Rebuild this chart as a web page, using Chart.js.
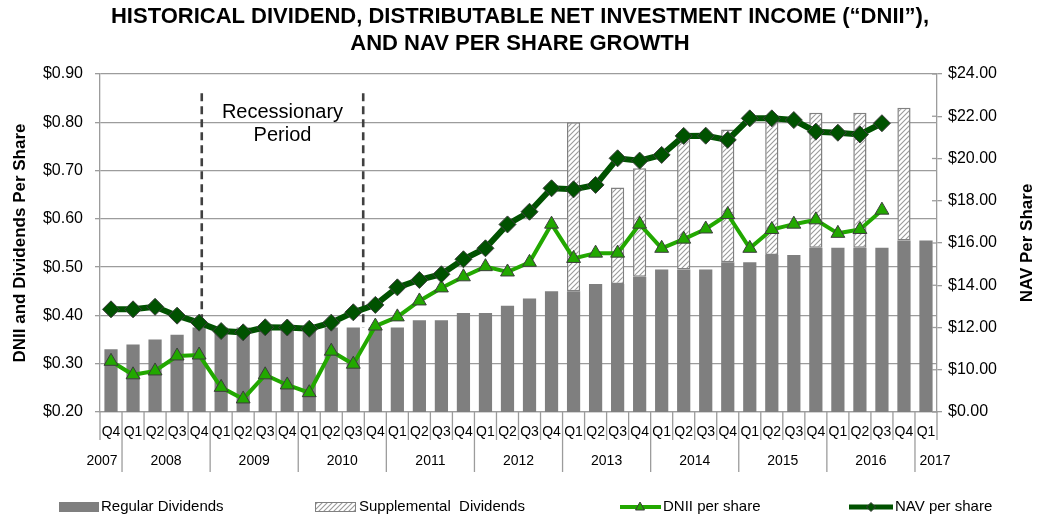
<!DOCTYPE html>
<html>
<head>
<meta charset="utf-8">
<script src="https://cdn.jsdelivr.net/npm/chart.js@4.4.0/dist/chart.umd.min.js"></script>
<style>
  html, body { margin: 0; padding: 0; background: #fff; }
  #wrap { width: 1040px; height: 521px; position: relative; }
</style>
</head>
<body>
<div id="wrap"><canvas id="divChart"></canvas></div>
<script>
// quarters from Q4 2007 to Q1 2017
const quarters = ['Q4',
  'Q1', 'Q2', 'Q3', 'Q4', 'Q1', 'Q2', 'Q3', 'Q4', 'Q1', 'Q2', 'Q3', 'Q4',
  'Q1', 'Q2', 'Q3', 'Q4', 'Q1', 'Q2', 'Q3', 'Q4', 'Q1', 'Q2', 'Q3', 'Q4',
  'Q1', 'Q2', 'Q3', 'Q4', 'Q1', 'Q2', 'Q3', 'Q4', 'Q1', 'Q2', 'Q3', 'Q4',
  'Q1'];
const yearLabels = ['2007', '2008', '2009', '2010', '2011', '2012', '2013', '2014', '2015', '2016', '2017'];
const yearStarts = [0, 1, 5, 9, 13, 17, 21, 25, 29, 33, 37];

const regularDividends = [0.33, 0.34, 0.35, 0.36, 0.375,
  0.375, 0.375, 0.375, 0.375, 0.375, 0.375, 0.375, 0.375,
  0.375, 0.39, 0.39, 0.405, 0.405, 0.42, 0.435, 0.45,
  0.45, 0.465, 0.465, 0.48, 0.495, 0.495, 0.495, 0.51,
  0.51, 0.525, 0.525, 0.54, 0.54, 0.54, 0.54, 0.555,
  0.555];
const supplementalDividends = [null, null, null, null, null,
  null, null, null, null, null, null, null, null,
  null, null, null, null, null, null, null, null,
  0.35, null, 0.20, 0.225, null, 0.275, null, 0.275,
  null, 0.29, null, 0.28, null, 0.28, null, 0.275,
  null];
const dniiPerShare = [0.305, 0.277, 0.285, 0.316, 0.318,
  0.251, 0.227, 0.277, 0.256, 0.240, 0.326, 0.299, 0.378,
  0.397, 0.430, 0.457, 0.480, 0.501, 0.490, 0.510, 0.589,
  0.518, 0.529, 0.529, 0.589, 0.539, 0.558, 0.579, 0.609,
  0.539, 0.578, 0.589, 0.598, 0.570, 0.578, 0.618, null,
  null];
const navPerShare = [12.86, 12.86, 12.98, 12.56, 12.23,
  11.83, 11.77, 12.01, 12.00, 11.94, 12.23, 12.72, 13.07,
  13.90, 14.25, 14.52, 15.23, 15.75, 16.88, 17.48, 18.59,
  18.54, 18.75, 20.01, 19.90, 20.17, 21.07, 21.08, 20.88,
  21.90, 21.90, 21.82, 21.27, 21.22, 21.14, 21.67, null,
  null];

const leftTickLabels = ['$0.20', '$0.30', '$0.40', '$0.50', '$0.60', '$0.70', '$0.80', '$0.90'];
const rightTickLabels = ['$0.00', '$10.00', '$12.00', '$14.00', '$16.00', '$18.00', '$20.00', '$22.00', '$24.00'];

const FONT = "'Liberation Sans', Arial, sans-serif";
const GRID = '#9c9c9c';
const BAR_GRAY = '#7f7f7f';
const DNII_GREEN = '#22a800';
const NAV_GREEN = '#005200';
const MARKER_EDGE = '#3c3c3c';

// hatch fill for supplemental dividends
const makeHatch = () => {
  const c = document.createElement('canvas');
  c.width = 5;
  c.height = 5;
  const hc = c.getContext('2d');
  hc.fillStyle = '#ffffff';
  hc.fillRect(0, 0, 5, 5);
  hc.strokeStyle = '#9a9a9a';
  hc.lineWidth = 1.1;
  hc.beginPath();
  hc.moveTo(0, 5); hc.lineTo(5, 0);
  hc.moveTo(-1, 1); hc.lineTo(1, -1);
  hc.moveTo(4, 6); hc.lineTo(6, 4);
  hc.stroke();
  return c;
};

const canvasElement = document.getElementById('divChart');
const ctx = canvasElement.getContext('2d');
const hatchPattern = ctx.createPattern(makeHatch(), 'repeat');

// x axis group labels, recession marker, legend and right axis title
const decorPlugin = {
  id: 'decor',
  beforeDatasetsDraw(chart) {
    const { ctx, scales: { x, y } } = chart;
    ctx.save();
    ctx.strokeStyle = '#404040';
    ctx.lineWidth = 2.6;
    ctx.setLineDash([8, 5]);
    [4.12, 11.45].forEach((v) => {
      const px = x.getPixelForValue(v);
      ctx.beginPath();
      ctx.moveTo(px, y.getPixelForValue(0.86));
      ctx.lineTo(px, y.getPixelForValue(0.375));
      ctx.stroke();
    });
    ctx.setLineDash([]);
    ctx.fillStyle = '#000';
    ctx.font = '20px ' + FONT;
    ctx.textAlign = 'center';
    ctx.textBaseline = 'middle';
    const cx = x.getPixelForValue((4.12 + 11.45) / 2);
    ctx.fillText('Recessionary', cx, y.getPixelForValue(0.82));
    ctx.fillText('Period', cx, y.getPixelForValue(0.772));
    ctx.restore();
  },
  afterDraw(chart) {
    const { ctx, scales: { x, y2 }, chartArea } = chart;
    const base = chartArea.bottom;
    ctx.save();
    ctx.strokeStyle = GRID;
    ctx.lineWidth = 1.3;
    for (let i = 0; i <= quarters.length; i++) {
      const px = x.getPixelForValue(i - 0.5);
      const isYear = yearStarts.includes(i) || i === quarters.length;
      ctx.beginPath();
      ctx.moveTo(px, base);
      ctx.lineTo(px, base + (isYear && i > 0 && i < quarters.length ? 60 : 28));
      ctx.stroke();
    }
    // right axis ticks also cross inwards
    y2.ticks.forEach((t) => {
      const py = y2.getPixelForValue(t.value);
      ctx.beginPath();
      ctx.moveTo(chartArea.right - 5, py);
      ctx.lineTo(chartArea.right, py);
      ctx.stroke();
    });
    ctx.fillStyle = '#000';
    ctx.font = '14px ' + FONT;
    ctx.textAlign = 'center';
    ctx.textBaseline = 'middle';
    yearLabels.forEach((label, k) => {
      const first = yearStarts[k];
      const last = k + 1 < yearStarts.length ? yearStarts[k + 1] - 1 : quarters.length - 1;
      let cx = (x.getPixelForValue(first) + x.getPixelForValue(last)) / 2;
      if (k === 0) cx -= 9;
      if (k === yearLabels.length - 1) cx += 9;
      ctx.fillText(label, cx, base + 49);
    });

    // right axis title, reading upwards
    ctx.font = 'bold 17px ' + FONT;
    ctx.translate(1027, (chartArea.top + chartArea.bottom) / 2);
    ctx.rotate(-Math.PI / 2);
    ctx.fillText('NAV Per Share', 0, 0);
    ctx.restore();

    // legend
    const ly = 507;
    ctx.save();
    ctx.font = '15px ' + FONT;
    ctx.textBaseline = 'middle';
    ctx.textAlign = 'left';
    ctx.fillStyle = BAR_GRAY;
    ctx.fillRect(59, ly - 5, 40, 10);
    ctx.fillStyle = hatchPattern;
    ctx.fillRect(315, ly - 5, 41, 10);
    ctx.strokeStyle = '#808080';
    ctx.lineWidth = 1;
    ctx.strokeRect(315.5, ly - 4.5, 40, 9);

    ctx.strokeStyle = DNII_GREEN;
    ctx.lineWidth = 4;
    ctx.beginPath(); ctx.moveTo(620, ly); ctx.lineTo(661, ly); ctx.stroke();
    ctx.fillStyle = DNII_GREEN;
    ctx.strokeStyle = MARKER_EDGE;
    ctx.lineWidth = 1;
    ctx.beginPath();
    ctx.moveTo(640, ly - 5); ctx.lineTo(644.5, ly + 3); ctx.lineTo(635.5, ly + 3); ctx.closePath();
    ctx.fill(); ctx.stroke();

    ctx.strokeStyle = NAV_GREEN;
    ctx.lineWidth = 5;
    ctx.beginPath(); ctx.moveTo(849, ly); ctx.lineTo(893, ly); ctx.stroke();
    ctx.fillStyle = NAV_GREEN;
    ctx.strokeStyle = MARKER_EDGE;
    ctx.lineWidth = 1;
    ctx.beginPath();
    ctx.moveTo(871, ly - 4.5); ctx.lineTo(875.5, ly); ctx.lineTo(871, ly + 4.5); ctx.lineTo(866.5, ly); ctx.closePath();
    ctx.fill(); ctx.stroke();

    ctx.fillStyle = '#000';
    ctx.fillText('Regular Dividends', 101, ly);
    ctx.fillText('Supplemental  Dividends', 359, ly);
    ctx.fillText('DNII per share', 663, ly);
    ctx.fillText('NAV per share', 895, ly);
    ctx.restore();
  },
};

new Chart(ctx, {
  type: 'bar',
  data: {
    labels: quarters,
    datasets: [
      {
        type: 'line',
        label: 'NAV per share',
        data: navPerShare,
        yAxisID: 'y2',
        stack: 'nav',
        order: 1,
        borderColor: NAV_GREEN,
        borderWidth: 6,
        tension: 0,
        pointStyle: 'rectRot',
        pointRadius: 8.5,
        pointBackgroundColor: NAV_GREEN,
        pointBorderColor: MARKER_EDGE,
        pointBorderWidth: 1,
      },
      {
        type: 'line',
        label: 'DNII per share',
        data: dniiPerShare,
        yAxisID: 'y',
        stack: 'dnii',
        order: 2,
        borderColor: DNII_GREEN,
        borderWidth: 4,
        tension: 0,
        pointStyle: 'triangle',
        pointRadius: 8,
        pointBackgroundColor: DNII_GREEN,
        pointBorderColor: MARKER_EDGE,
        pointBorderWidth: 1,
      },
      {
        label: 'Regular Dividends',
        data: regularDividends,
        yAxisID: 'y',
        stack: 'div',
        order: 3,
        backgroundColor: BAR_GRAY,
        barPercentage: 0.6,
        categoryPercentage: 1.0,
      },
      {
        label: 'Supplemental  Dividends',
        data: supplementalDividends,
        yAxisID: 'y',
        stack: 'div',
        order: 4,
        backgroundColor: hatchPattern,
        borderColor: '#808080',
        borderWidth: 1.5,
        borderSkipped: false,
        barPercentage: 0.6,
        categoryPercentage: 1.0,
      },
    ],
  },
  options: {
    responsive: true,
    maintainAspectRatio: false,
    animation: false,
    layout: { padding: { left: 0, right: 0, top: 0, bottom: 49 } },
    plugins: {
      legend: { display: false },
      tooltip: { enabled: false },
      title: {
        display: true,
        text: ['HISTORICAL DIVIDEND, DISTRIBUTABLE NET INVESTMENT INCOME (\u201CDNII\u201D),', 'AND NAV PER SHARE GROWTH'],
        color: '#000',
        font: { family: FONT, size: 22, weight: 'bold', lineHeight: 1.2 },
        padding: { top: 4, bottom: 17.2 },
      },
    },
    scales: {
      x: {
        stacked: true,
        grid: { display: false, drawTicks: false },
        border: { display: true, color: GRID, width: 1.3 },
        ticks: {
          color: '#000',
          font: { family: FONT, size: 14 },
          padding: 12,
          maxRotation: 0,
          autoSkip: false,
        },
        afterFit(scale) { scale.height = 60; },
      },
      y: {
        position: 'left',
        stacked: true,
        min: 0.2,
        max: 0.9,
        ticks: {
          stepSize: 0.1,
          color: '#000',
          font: { family: FONT, size: 16 },
          padding: 12,
          callback: (v, i) => leftTickLabels[i],
        },
        grid: { color: GRID, lineWidth: 1.3, tickLength: 5 },
        border: { color: GRID, width: 1.3 },
        title: {
          display: true,
          text: 'DNII and Dividends Per Share',
          color: '#000',
          font: { family: FONT, size: 17, weight: 'bold' },
          padding: { top: 10, bottom: 0 },
        },
        afterFit(scale) { scale.width = 100; },
      },
      y2: {
        position: 'right',
        min: 8,
        max: 24,
        ticks: {
          stepSize: 2,
          color: '#000',
          font: { family: FONT, size: 16 },
          padding: 6,
          callback: (v, i) => rightTickLabels[i],
        },
        grid: { drawOnChartArea: false, color: GRID, lineWidth: 1.3, tickLength: 5 },
        border: { color: GRID, width: 1.3 },
        afterFit(scale) { scale.width = 103; },
      },
    },
  },
  plugins: [decorPlugin],
});
</script>
</body>
</html>
